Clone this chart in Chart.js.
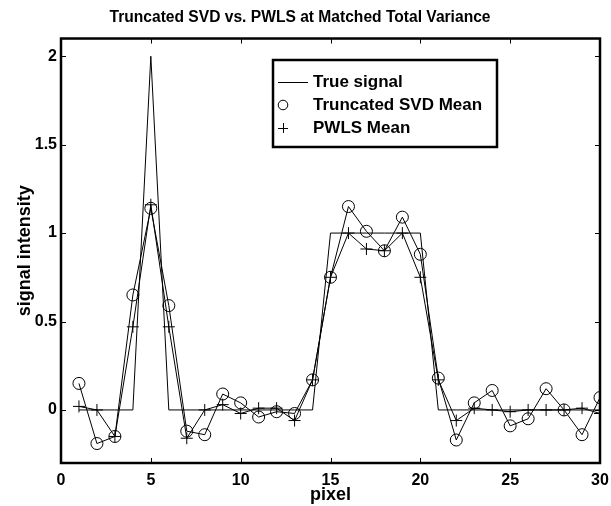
<!DOCTYPE html>
<html>
<head>
<meta charset="utf-8">
<script src="https://cdn.jsdelivr.net/npm/chart.js@4/dist/chart.umd.min.js"></script>
<style>
  html, body { margin: 0; padding: 0; background: #fff; }
  #wrap { width: 611px; height: 506px; }
</style>
</head>
<body>
<div id="wrap"><canvas id="c" width="611" height="506"></canvas></div>
<script>
const pixels = [1, 2, 3, 4, 5, 6, 7, 8, 9, 10, 11, 12, 13, 14, 15, 16, 17, 18, 19, 20, 21, 22, 23, 24, 25, 26, 27, 28, 29, 30];
const trueSignal = [0, 0, 0, 0, 2, 0, 0, 0, 0, 0, 0, 0, 0, 0, 1, 1, 1, 1, 1, 1, 0, 0, 0, 0, 0, 0, 0, 0, 0, 0];
const tsvdMean = [0.15, -0.19, -0.15, 0.65, 1.14, 0.59, -0.12, -0.14, 0.09, 0.04, -0.04, -0.01, -0.02, 0.17, 0.75,
                  1.15, 1.01, 0.90, 1.09, 0.88, 0.18, -0.17, 0.04, 0.11, -0.09, -0.05, 0.12, 0.00, -0.14, 0.07];
const pwlsMean = [0.02, 0.00, -0.15, 0.47, 1.16, 0.47, -0.16, 0.00, 0.03, -0.02, 0.01, 0.01, -0.06, 0.17, 0.75,
                  1.00, 0.91, 0.90, 1.00, 0.75, 0.17, -0.06, 0.01, 0.00, -0.01, 0.00, 0.00, 0.00, 0.01, -0.02];
const xTicks = [0, 5, 10, 15, 20, 25, 30];
const yTicks = [0, 0.5, 1, 1.5, 2];
const legendLabels = ['True signal', 'Truncated SVD Mean', 'PWLS Mean'];

const FONT = 'Liberation Sans, Arial, Helvetica, sans-serif';
const pts = arr => arr.map((v, i) => ({ x: pixels[i], y: v }));

// matlab style box with inward ticks and boxed legend
const frame = {
  id: 'frame',
  afterDraw(chart) {
    const ctx = chart.ctx;
    const a = chart.chartArea;
    const xs = chart.scales.x, ys = chart.scales.y;
    ctx.save();
    ctx.strokeStyle = '#000';
    ctx.lineWidth = 1;
    ctx.beginPath();
    xTicks.forEach(t => {
      const px = Math.round(xs.getPixelForValue(t)) + 0.5;
      ctx.moveTo(px, a.bottom); ctx.lineTo(px, a.bottom - 5);
      ctx.moveTo(px, a.top); ctx.lineTo(px, a.top + 5);
    });
    yTicks.forEach(t => {
      const py = Math.round(ys.getPixelForValue(t)) + 0.5;
      ctx.moveTo(a.left, py); ctx.lineTo(a.left + 5, py);
      ctx.moveTo(a.right, py); ctx.lineTo(a.right - 5, py);
    });
    ctx.stroke();
    ctx.lineWidth = 2.5;
    ctx.strokeRect(a.left, a.top, a.right - a.left, a.bottom - a.top);

    // legend
    const lx = 273, ly = 60, lw = 224, lh = 87;
    ctx.fillStyle = '#fff';
    ctx.fillRect(lx, ly, lw, lh);
    ctx.lineWidth = 2.5;
    ctx.strokeRect(lx, ly, lw, lh);
    const rows = [82, 105, 128];
    ctx.lineWidth = 1;
    ctx.beginPath();
    ctx.moveTo(278, rows[0] + 0.5); ctx.lineTo(308, rows[0] + 0.5);
    ctx.stroke();
    ctx.beginPath();
    ctx.arc(283, rows[1], 4.8, 0, Math.PI * 2);
    ctx.stroke();
    ctx.beginPath();
    ctx.moveTo(278, rows[2] + 0.5); ctx.lineTo(288, rows[2] + 0.5);
    ctx.moveTo(283.5, rows[2] - 5); ctx.lineTo(283.5, rows[2] + 5);
    ctx.stroke();
    ctx.fillStyle = '#000';
    ctx.font = 'bold 17px ' + FONT;
    ctx.textBaseline = 'middle';
    ctx.textAlign = 'left';
    legendLabels.forEach((t, i) => ctx.fillText(t, 313, rows[i]));
    ctx.restore();
  }
};

new Chart(document.getElementById('c'), {
  type: 'line',
  data: {
    datasets: [
      { label: legendLabels[0], data: pts(trueSignal), borderColor: '#000', borderWidth: 1, pointRadius: 0, tension: 0 },
      { label: legendLabels[1], data: pts(tsvdMean), borderColor: '#000', borderWidth: 1, pointStyle: 'circle',
        pointRadius: 6, pointBorderWidth: 1, pointBorderColor: '#000', pointBackgroundColor: 'rgba(0,0,0,0)', tension: 0 },
      { label: legendLabels[2], data: pts(pwlsMean), borderColor: '#000', borderWidth: 1, pointStyle: 'cross',
        pointRadius: 6, pointBorderWidth: 1, pointBorderColor: '#000', tension: 0 }
    ]
  },
  options: {
    responsive: false,
    animation: false,
    layout: { padding: { right: 11, top: 0, left: 0, bottom: 0 } },
    plugins: {
      legend: { display: false },
      tooltip: { enabled: false },
      title: {
        display: true,
        text: 'Truncated SVD vs. PWLS at Matched Total Variance',
        color: '#000',
        font: { family: FONT, size: 15.6, weight: 'bold' },
        padding: { top: 8.1, bottom: 11.7 }
      }
    },
    scales: {
      x: {
        type: 'linear', min: 0, max: 30,
        afterFit: s => { s.height = 43; s.paddingLeft = 0; s.paddingRight = 0; },
        afterBuildTicks: s => { s.ticks = xTicks.map(v => ({ value: v })); },
        grid: { display: false, drawTicks: false },
        border: { display: false },
        ticks: { color: '#000', padding: 8, maxRotation: 0, font: { family: FONT, size: 16, weight: 'bold' } },
        title: { display: true, text: 'pixel', color: '#000', font: { family: FONT, size: 18, weight: 'bold' },
                 padding: { top: 0, bottom: 0 } }
      },
      y: {
        type: 'linear', min: -0.3, max: 2.1,
        afterFit: s => { s.width = 61; s.paddingTop = 0; s.paddingBottom = 0; },
        afterBuildTicks: s => { s.ticks = yTicks.map(v => ({ value: v })); },
        grid: { display: false, drawTicks: false },
        border: { display: false },
        ticks: { color: '#000', padding: 4, font: { family: FONT, size: 16, weight: 'bold' },
                 callback: v => String(v) },
        title: { display: true, text: 'signal intensity', color: '#000', font: { family: FONT, size: 18, weight: 'bold' },
                 padding: { top: 14, bottom: 0 } }
      }
    }
  },
  plugins: [frame]
});
</script>
</body>
</html>
